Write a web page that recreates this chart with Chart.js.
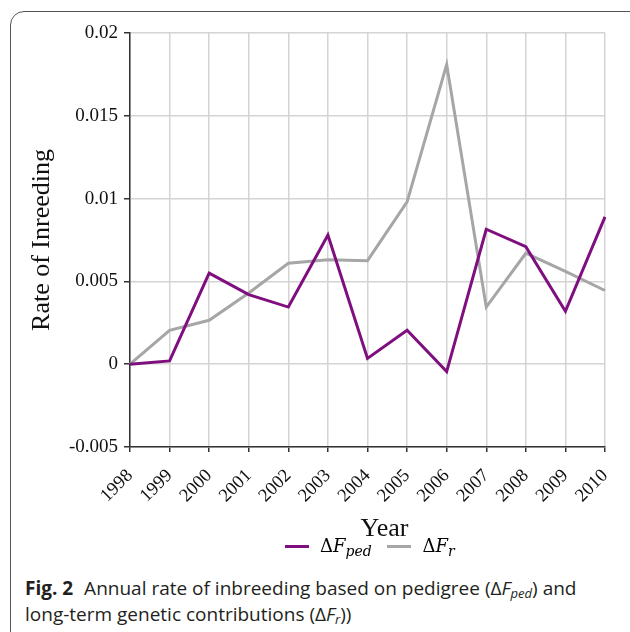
<!DOCTYPE html>
<html>
<head>
<meta charset="utf-8">
<script src="https://cdn.jsdelivr.net/npm/chart.js@4.4.1/dist/chart.umd.min.js"></script>
<style>
  body { margin: 0; background: #fff; width: 630px; height: 632px; overflow: hidden; position: relative; }
  #frame { position: absolute; left: 10px; top: 11px; width: 640px; height: 660px;
           border: 1.5px solid #555; border-radius: 14px; }
  #chart { position: absolute; left: 0; top: 0; }
  #legend { position: absolute; left: 285px; top: 535px; white-space: nowrap;
            font-family: "DejaVu Serif", "Liberation Serif", serif; font-size: 18px; }
  #legend .item { display: inline-block; margin-right: 10px; }
  #legend .swatch { display: inline-block; width: 24px; height: 3px; vertical-align: middle; margin-right: 11px; position: relative; top: -1px; }
  #legend i { font-style: italic; }
  #legend sub { font-size: 14px; font-style: italic; vertical-align: -4px; line-height: 0; }
  #caption { position: absolute; left: 25px; top: 575px; width: 580px;
             font-family: "Open Sans", "Noto Sans", sans-serif; font-size: 19px; line-height: 26px; color: #231f20; }
  #caption b { font-weight: 700; margin-right: 6px; }
  #caption sub { font-size: 13px; font-style: italic; vertical-align: -3px; line-height: 0; }
</style>
</head>
<body>
<div id="frame"></div>
<canvas id="chart" width="630" height="545"></canvas>
<div id="legend">
  <span class="item"><span class="swatch" style="background:#7f0f7e"></span>Δ<i>F</i><sub>ped</sub></span>
  <span class="item"><span class="swatch" style="background:#a6a6a6"></span>Δ<i>F</i><sub>r</sub></span>
</div>
<div id="caption"><b>Fig. 2</b> Annual rate of inbreeding based on pedigree (Δ<i>F</i><sub>ped</sub>) and long-term genetic contributions (Δ<i>F</i><sub>r</sub>))</div>
<script>
const years = ['1998', '1999', '2000', '2001', '2002', '2003', '2004', '2005', '2006', '2007', '2008', '2009', '2010'];
const deltaFped = [0, 0.0002, 0.0055, 0.0042, 0.00345, 0.0078, 0.00035, 0.00205, -0.00045, 0.00815, 0.0071, 0.0032, 0.0089];
const deltaFr = [0, 0.00205, 0.00265, 0.0043, 0.0061, 0.0063, 0.00625, 0.0098, 0.0181, 0.00345, 0.0067, 0.0056, 0.00445];
const yTicks = [-0.005, 0, 0.005, 0.01, 0.015, 0.02];

const serif = '"Liberation Serif", "Times New Roman", serif';

// nudge the x axis title to the right, as in the original figure
const shiftXTitle = {
    id: 'shiftXTitle',
    beforeDraw(chart) {
        const x = chart.scales.x;
        x._origDrawTitle = x._origDrawTitle || x.drawTitle;
        x.drawTitle = function() {
            this.ctx.save();
            this.ctx.translate(17, 0);
            this._origDrawTitle();
            this.ctx.restore();
        };
    }
};

const ctx = document.getElementById('chart').getContext('2d');
const chart = new Chart(ctx, {
    type: 'line',
    data: {
        labels: years,
        datasets: [{
            label: 'ΔFped',
            data: deltaFped,
            borderColor: '#7f0f7e',
            borderWidth: 3,
            pointRadius: 0,
            tension: 0
        }, {
            label: 'ΔFr',
            data: deltaFr,
            borderColor: '#a6a6a6',
            borderWidth: 3,
            pointRadius: 0,
            tension: 0
        }]
    },
    options: {
        responsive: false,
        animation: false,
        devicePixelRatio: 1,
        layout: { padding: { top: 33, right: 25, left: 0, bottom: 0 } },
        plugins: {
            legend: { display: false },
            tooltip: { enabled: false }
        },
        scales: {
            x: {
                offset: false,
                grid: { color: '#d4d4d4', lineWidth: 1.5, tickColor: '#333', tickLength: 5 },
                border: { color: '#333', width: 1.5 },
                ticks: {
                    color: '#111',
                    font: { family: serif, size: 18.5 },
                    maxRotation: 45,
                    minRotation: 45,
                    padding: 13
                },
                title: {
                    display: true,
                    text: 'Year',
                    color: '#111',
                    font: { family: serif, size: 26 },
                    padding: { top: 0, bottom: 0 }
                },
                afterFit: function(scale) {
                    scale.height = 98;
                    scale.paddingRight = 0;
                    scale.paddingLeft = 0;
                }
            },
            y: {
                min: -0.005,
                max: 0.02,
                afterBuildTicks: function(scale) {
                    scale.ticks = yTicks.map(v => ({ value: v }));
                },
                grid: { color: '#d4d4d4', lineWidth: 1.5, tickColor: '#333', tickLength: 6 },
                border: { color: '#333', width: 1.5 },
                ticks: {
                    color: '#111',
                    font: { family: serif, size: 19 },
                    padding: 6,
                    callback: function(v) { return String(+v.toFixed(3)); }
                },
                title: {
                    display: true,
                    text: 'Rate of Inreeding',
                    color: '#111',
                    font: { family: serif, size: 26 },
                    padding: { top: 27, bottom: 0 }
                },
                afterFit: function(scale) { scale.width = 130; }
            }
        }
    },
    plugins: [shiftXTitle]
});
</script>
</body>
</html>
